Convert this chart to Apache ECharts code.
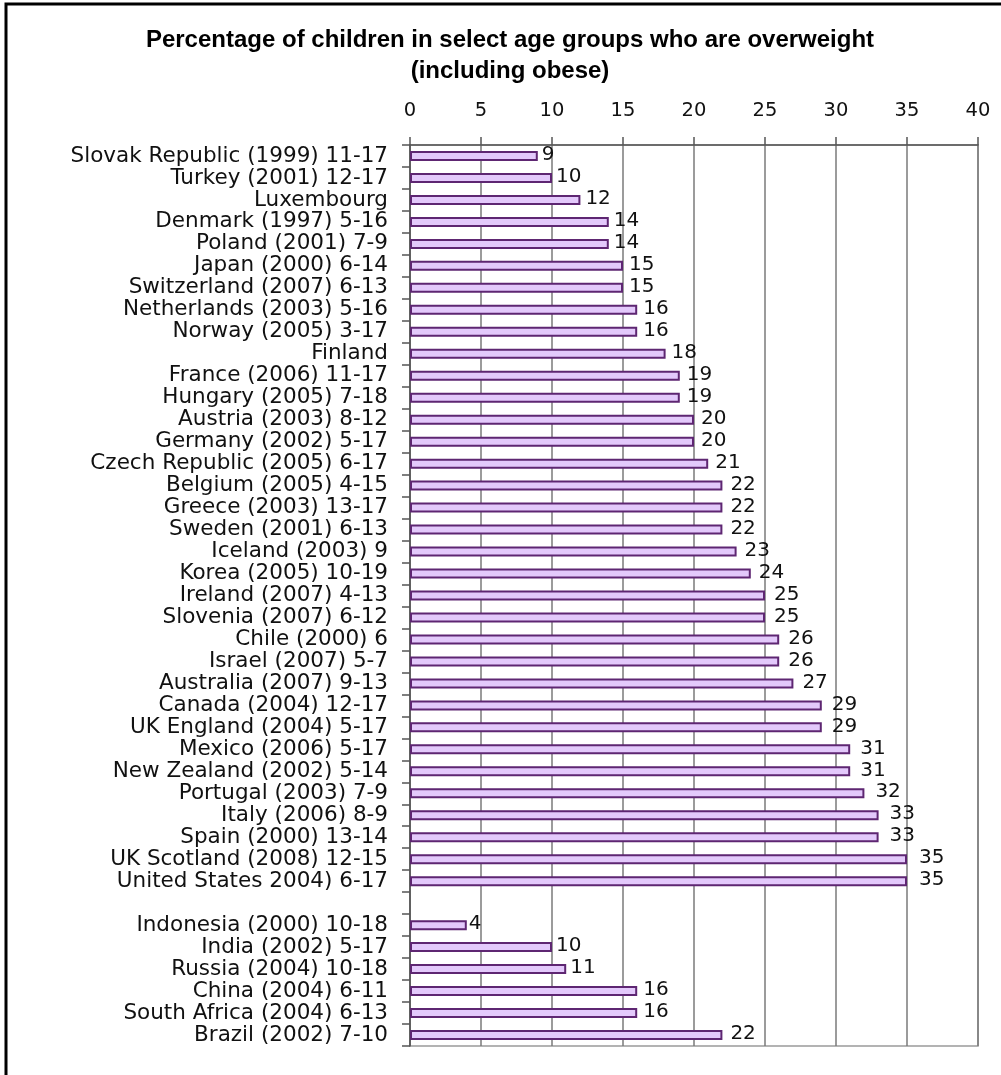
<!DOCTYPE html>
<html>
<head>
<meta charset="utf-8">
<script src="https://cdn.jsdelivr.net/npm/echarts@6/dist/echarts.min.js"></script>
<style>
html,body{margin:0;padding:0;background:#fff;}
#chart{width:1001px;height:1075px;}
</style>
</head>
<body>
<div id="chart"></div>
<script>
const titleLines = ['Percentage of children in select age groups who are overweight', '(including obese)'];
const categories = [
  'Slovak Republic (1999) 11-17', 'Turkey (2001) 12-17', 'Luxembourg', 'Denmark (1997) 5-16',
  'Poland (2001) 7-9', 'Japan (2000) 6-14', 'Switzerland (2007) 6-13', 'Netherlands (2003) 5-16',
  'Norway (2005) 3-17', 'Finland', 'France (2006) 11-17', 'Hungary (2005) 7-18',
  'Austria (2003) 8-12', 'Germany (2002) 5-17', 'Czech Republic (2005) 6-17', 'Belgium (2005) 4-15',
  'Greece (2003) 13-17', 'Sweden (2001) 6-13', 'Iceland (2003) 9', 'Korea (2005) 10-19',
  'Ireland (2007) 4-13', 'Slovenia (2007) 6-12', 'Chile (2000) 6', 'Israel (2007) 5-7',
  'Australia (2007) 9-13', 'Canada (2004) 12-17', 'UK England (2004) 5-17', 'Mexico (2006) 5-17',
  'New Zealand (2002) 5-14', 'Portugal (2003) 7-9', 'Italy (2006) 8-9', 'Spain (2000) 13-14',
  'UK Scotland (2008) 12-15', 'United States 2004) 6-17', '',
  'Indonesia (2000) 10-18', 'India (2002) 5-17', 'Russia (2004) 10-18', 'China (2004) 6-11',
  'South Africa (2004) 6-13', 'Brazil (2002) 7-10'
];
const values = [
  9, 10, 12, 14, 14, 15, 15, 16, 16, 18, 19, 19, 20, 20, 21, 22, 22, 22, 23, 24,
  25, 25, 26, 26, 27, 29, 29, 31, 31, 32, 33, 33, 35, 35, null,
  4, 10, 11, 16, 16, 22
];
const xMin = 0, xMax = 40, xInterval = 5;

// The original spreadsheet pushes value labels further from longer bars.
const seriesData = values.map(v => v === null ? null : {
  value: v,
  label: {distance: Math.round(1 + v * 0.3)}
});

const chart = echarts.init(document.getElementById('chart'), null, {renderer: 'canvas'});
chart.setOption({
  animation: false,
  backgroundColor: '#ffffff',
  title: {
    text: titleLines.join('\n'),
    left: 510,
    top: 25,
    textAlign: 'center',
    padding: 0,
    textStyle: {
      fontFamily: 'Liberation Sans, Arial, sans-serif',
      fontWeight: 'bold',
      fontSize: 24,
      lineHeight: 31,
      color: '#000'
    }
  },
  graphic: [{
    type: 'rect',
    shape: {x: 6, y: 4, width: 1200, height: 1200},
    style: {fill: 'none', stroke: '#000', lineWidth: 3},
    silent: true,
    z: 100
  }],
  grid: {
    left: 410, right: 23, top: 145, bottom: 29,
    show: true, borderColor: '#9a9a9a', borderWidth: 1.5, backgroundColor: 'transparent'
  },
  xAxis: {
    type: 'value',
    position: 'top',
    min: xMin, max: xMax, interval: xInterval,
    axisLine: {show: true, lineStyle: {color: '#555', width: 1.5}},
    axisTick: {show: true, inside: false, length: 8, lineStyle: {color: '#555', width: 1.5}},
    splitLine: {show: true, lineStyle: {color: '#7a7a7a', width: 1.5}},
    axisLabel: {
      margin: 24,
      fontFamily: 'DejaVu Sans, sans-serif',
      fontSize: 19.5,
      color: '#111'
    }
  },
  yAxis: {
    type: 'category',
    data: categories,
    inverse: true,
    axisLine: {show: true, lineStyle: {color: '#555', width: 1.5}},
    axisTick: {show: true, inside: false, length: 8, lineStyle: {color: '#555', width: 1.5}},
    splitLine: {show: false},
    axisLabel: {
      margin: 22,
      interval: 0,
      fontFamily: 'DejaVu Sans, sans-serif',
      fontSize: 21.5,
      color: '#111'
    }
  },
  series: [{
    type: 'bar',
    data: seriesData,
    barWidth: 10,
    itemStyle: {color: '#e3c9fb', borderColor: '#5e2672', borderWidth: 2},
    label: {
      show: true,
      position: 'right',
      offset: [0, -1],
      fontFamily: 'DejaVu Sans, sans-serif',
      fontSize: 20,
      color: '#111'
    }
  }]
});
</script>
</body>
</html>
